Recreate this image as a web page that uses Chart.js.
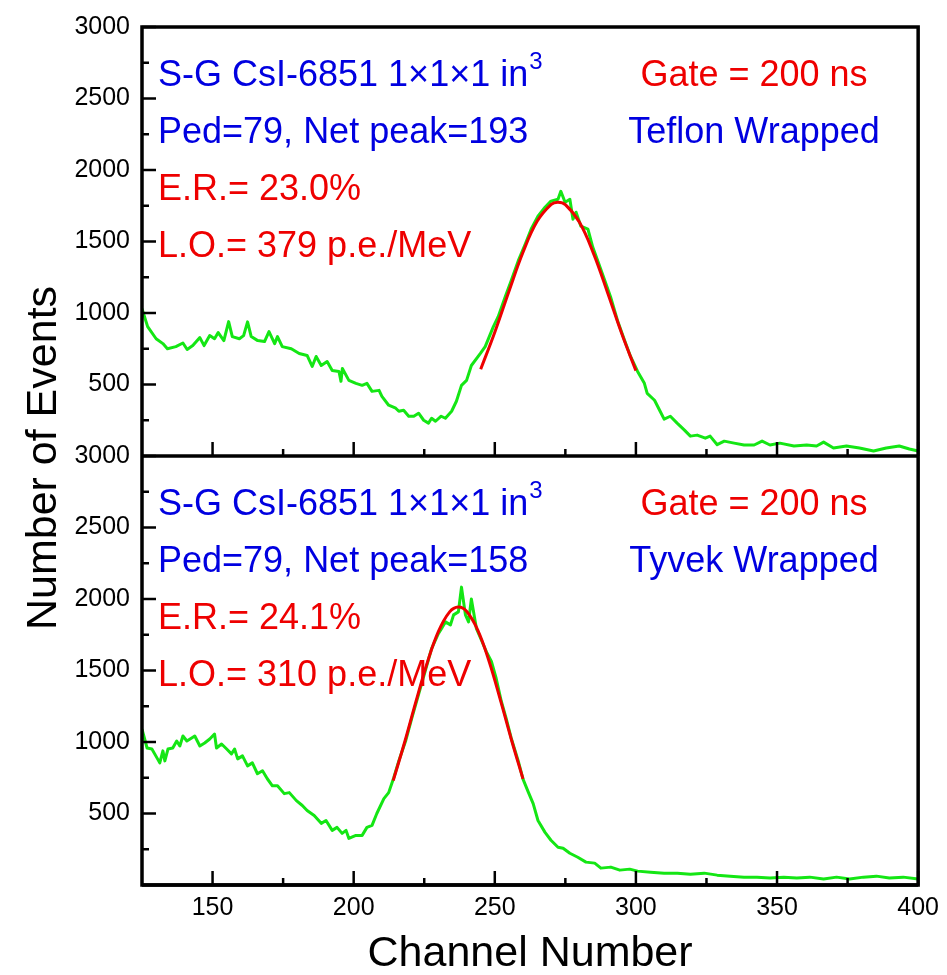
<!DOCTYPE html>
<html>
<head>
<meta charset="utf-8">
<script src="https://cdn.jsdelivr.net/npm/chart.js@4.4.0/dist/chart.umd.min.js"></script>
<style>
  html, body { margin: 0; padding: 0; background: #fff; }
  #wrap { position: relative; width: 947px; height: 975px; }
</style>
</head>
<body>
<div id="wrap"><canvas id="chart" width="947" height="975"></canvas></div>
<script>
// Axis ticks
const xTicks = [150, 200, 250, 300, 350, 400];
const xMinorTicks = [175, 225, 275, 325, 375];
const yTicks = [500, 1000, 1500, 2000, 2500, 3000];
const yMinorTicks = [250, 750, 1250, 1750, 2250, 2750];

// Top panel: Teflon wrapped spectrum
const tefChannels = [125.0, 127.0, 130.0, 132.4, 134.0, 137.0, 139.5, 141.0, 143.0, 145.5, 147.0, 149.0, 150.7, 152.0, 154.0, 155.7, 157.0, 159.5, 161.0, 162.4, 163.7, 166.0, 168.4, 170.0, 172.0, 173.0, 174.7, 177.9, 180.7, 183.5, 185.3, 186.7, 188.5, 190.6, 192.4, 194.8, 195.5, 196.0, 198.3, 200.8, 203.0, 204.7, 206.5, 209.0, 210.0, 212.4, 214.9, 216.0, 217.7, 219.5, 221.3, 223.0, 224.8, 226.5, 227.6, 229.0, 231.0, 232.5, 234.7, 236.4, 238.2, 240.0, 241.7, 244.9, 246.6, 249.5, 251.2, 253.7, 255.8, 258.3, 260.8, 262.9, 265.3, 267.8, 269.9, 272.4, 273.4, 274.9, 276.6, 277.7, 278.8, 280.5, 283.0, 284.7, 286.5, 289.0, 291.0, 293.5, 296.0, 298.1, 300.6, 303.0, 304.0, 306.6, 308.4, 310.0, 312.2, 314.6, 317.2, 319.3, 321.7, 324.6, 326.3, 328.8, 331.3, 334.8, 338.3, 341.9, 344.7, 347.5, 351.0, 356.0, 360.5, 364.0, 366.5, 370.0, 374.6, 379.2, 384.2, 388.7, 393.3, 396.9, 400.0];
const tefCounts = [1030, 905, 820, 786, 750, 765, 790, 745, 772, 828, 772, 842, 820, 863, 807, 940, 835, 820, 842, 938, 835, 807, 800, 870, 786, 835, 765, 750, 717, 703, 626, 696, 633, 661, 598, 591, 522, 612, 529, 508, 494, 508, 452, 459, 417, 355, 334, 313, 320, 278, 278, 299, 250, 230, 264, 243, 278, 264, 313, 383, 494, 529, 633, 717, 765, 905, 974, 1114, 1225, 1364, 1482, 1587, 1677, 1740, 1782, 1795, 1851, 1775, 1795, 1656, 1705, 1607, 1587, 1461, 1364, 1225, 1114, 946, 807, 696, 591, 508, 438, 390, 320, 258, 278, 230, 181, 139, 146, 125, 139, 79, 104, 90, 77, 77, 104, 77, 90, 70, 77, 70, 97, 56, 70, 56, 35, 56, 70, 49, 35];
const tefFitChannels = [245, 250, 255, 260, 265, 270, 272.4, 275, 280, 285, 290, 295, 300];
const tefFitCounts = [607, 866, 1151, 1425, 1641, 1760, 1775, 1758, 1634, 1415, 1140, 855, 597];

// Bottom panel: Tyvek wrapped spectrum
const tyvChannels = [125.0, 126.8, 128.5, 130.3, 131.3, 132.4, 133.1, 134.2, 135.9, 137.3, 138.4, 139.5, 140.9, 142.6, 143.7, 145.5, 147.2, 149.0, 150.7, 151.4, 153.2, 155.0, 156.7, 157.8, 158.9, 160.6, 162.4, 164.1, 165.9, 167.7, 169.4, 171.2, 173.0, 175.4, 177.2, 179.7, 181.8, 183.5, 186.0, 188.5, 190.2, 192.4, 194.1, 195.9, 197.3, 198.3, 200.8, 203.0, 204.7, 206.5, 208.2, 210.7, 212.4, 214.2, 216.0, 218.4, 220.6, 223.0, 225.5, 227.6, 230.0, 231.1, 232.5, 234.3, 235.4, 237.1, 238.2, 239.6, 240.7, 241.7, 243.5, 245.2, 247.0, 248.8, 250.5, 252.3, 254.0, 255.8, 258.3, 260.0, 261.8, 263.6, 265.3, 267.8, 269.9, 272.4, 274.2, 276.6, 279.4, 282.3, 285.4, 287.6, 291.1, 294.3, 297.8, 300.6, 305.2, 310.0, 314.7, 319.3, 324.2, 328.8, 333.4, 338.3, 342.9, 347.5, 352.4, 357.0, 361.6, 366.5, 371.1, 375.7, 380.6, 385.2, 389.8, 394.7, 400.0];
const tyvCounts = [1090, 958, 951, 889, 854, 938, 868, 951, 958, 1007, 972, 1042, 1007, 1028, 1042, 972, 993, 1021, 1056, 958, 986, 951, 917, 951, 882, 903, 833, 854, 778, 799, 743, 694, 694, 639, 646, 590, 556, 521, 486, 431, 451, 382, 403, 361, 382, 326, 347, 347, 403, 417, 500, 604, 646, 750, 868, 1007, 1167, 1333, 1507, 1653, 1757, 1792, 1840, 1819, 1889, 1910, 2083, 1889, 1840, 2000, 1792, 1715, 1632, 1563, 1444, 1285, 1167, 1028, 868, 740, 653, 569, 451, 368, 313, 264, 257, 222, 194, 160, 153, 118, 125, 104, 111, 97, 90, 83, 83, 76, 83, 69, 62, 55, 55, 49, 55, 49, 55, 42, 55, 42, 55, 62, 49, 55, 42];
const tyvFitChannels = [214, 218, 222, 226, 230, 234, 237.1, 240, 244, 248, 252, 256, 260];
const tyvFitCounts = [730, 995, 1279, 1550, 1772, 1910, 1944, 1914, 1781, 1563, 1293, 1009, 742];

const FONT = "'Liberation Sans', Arial, sans-serif";
const GREEN = '#14e614';
const RED = '#ee0000';
const BLUE = '#0000e0';

Chart.defaults.font.family = FONT;

const toPts = (xs, ys) => xs.map((x, i) => ({ x: x, y: ys[i] }));

// frame, inward tick marks and the text annotations
const framePlugin = {
    id: 'frame',
    afterDraw(chart) {
        const { ctx, chartArea: a, scales } = chart;
        const yT = scales.yTop, yB = scales.yBot, sx = scales.x;
        ctx.save();
        ctx.strokeStyle = '#000';
        ctx.lineCap = 'butt';

        const hTick = (y, len) => { ctx.beginPath(); ctx.moveTo(a.left, y); ctx.lineTo(a.left + len, y); ctx.stroke(); };
        const vTick = (x, y, len) => { ctx.beginPath(); ctx.moveTo(x, y); ctx.lineTo(x, y - len); ctx.stroke(); };

        ctx.lineWidth = 2.5;
        [yT, yB].forEach(s => {
            yTicks.forEach(v => hTick(s.getPixelForValue(v), 14));
            yMinorTicks.forEach(v => hTick(s.getPixelForValue(v), 7));
            const base = s.getPixelForValue(0);
            xTicks.forEach(v => vTick(sx.getPixelForValue(v), base, 14));
            xMinorTicks.forEach(v => vTick(sx.getPixelForValue(v), base, 7));
        });

        ctx.lineWidth = 3.5;
        ctx.strokeRect(a.left, a.top, a.right - a.left, a.bottom - a.top);
        [yT, yB].forEach(s => {
            const y = s.getPixelForValue(0);
            ctx.beginPath(); ctx.moveTo(a.left, y); ctx.lineTo(a.right, y); ctx.stroke();
        });

        // panel annotations
        const panels = [
            { top: yT.top, peak: '193', er: '23.0%', lo: '379', wrap: 'Teflon Wrapped' },
            { top: yB.top, peak: '158', er: '24.1%', lo: '310', wrap: 'Tyvek Wrapped' }
        ];
        const lx = a.left + 16, rx = 754;
        panels.forEach(p => {
            const b = i => p.top + 59 + 57 * i;
            ctx.font = '36px ' + FONT;
            ctx.textBaseline = 'alphabetic';
            ctx.textAlign = 'left';
            ctx.fillStyle = BLUE;
            const head = 'S-G CsI-6851 1\u00d71\u00d71 in';
            ctx.fillText(head, lx, b(0));
            const w = ctx.measureText(head).width;
            ctx.fillText('Ped=79, Net peak=' + p.peak, lx, b(1));
            ctx.fillStyle = RED;
            ctx.fillText('E.R.= ' + p.er, lx, b(2));
            ctx.fillText('L.O.= ' + p.lo + ' p.e./MeV', lx, b(3));
            ctx.textAlign = 'center';
            ctx.fillText('Gate = 200 ns', rx, b(0));
            ctx.fillStyle = BLUE;
            ctx.fillText(p.wrap, rx, b(1));
            ctx.font = '24px ' + FONT;
            ctx.textAlign = 'left';
            ctx.fillText('3', lx + w + 1, b(0) - 17);
        });

        // axis titles
        ctx.fillStyle = '#000';
        ctx.font = '43px ' + FONT;
        ctx.textAlign = 'center';
        ctx.fillText('Channel Number', (a.left + a.right) / 2, 966);
        ctx.translate(56, 458);
        ctx.rotate(-Math.PI / 2);
        ctx.fillText('Number of Events', 0, 0);
        ctx.restore();
    }
};

const yAxis = () => ({
    type: 'linear',
    position: 'left',
    stack: 'panels',
    stackWeight: 1,
    min: 0,
    max: 3000,
    grid: { display: false, drawTicks: false },
    border: { display: false },
    ticks: { font: { size: 25 }, color: '#000', padding: 12, autoSkip: false, callback: v => String(v) },
    afterBuildTicks: s => { s.ticks = yTicks.map(v => ({ value: v })); },
    afterFit: s => { s.width = 142; }
});

const spectrum = (xs, ys, axis) => ({ data: toPts(xs, ys), yAxisID: axis, borderColor: GREEN, borderWidth: 3, pointRadius: 0, tension: 0, borderJoinStyle: 'round', order: 2 });
const fit = (xs, ys, axis) => ({ data: toPts(xs, ys), yAxisID: axis, borderColor: RED, borderWidth: 3, pointRadius: 0, tension: 0.4, order: 1 });

const ctx = document.getElementById('chart').getContext('2d');
new Chart(ctx, {
    type: 'line',
    data: {
        datasets: [
            spectrum(tefChannels, tefCounts, 'yTop'),
            fit(tefFitChannels, tefFitCounts, 'yTop'),
            spectrum(tyvChannels, tyvCounts, 'yBot'),
            fit(tyvFitChannels, tyvFitCounts, 'yBot')
        ]
    },
    options: {
        responsive: false,
        animation: false,
        layout: { padding: { left: 0, right: 25, top: 22, bottom: 0 } },
        plugins: { legend: { display: false }, tooltip: { enabled: false } },
        scales: {
            x: {
                type: 'linear',
                min: 125,
                max: 400,
                grid: { display: false, drawTicks: false },
                border: { display: false },
                ticks: { font: { size: 25 }, color: '#000', padding: 8, maxRotation: 0, autoSkip: false, callback: v => String(v) },
                afterBuildTicks: s => { s.ticks = xTicks.map(v => ({ value: v })); },
                afterFit: s => { s.height = 90; }
            },
            // stacked: the later axis is laid out on top
            yBot: yAxis(),
            yTop: yAxis()
        }
    },
    plugins: [framePlugin]
});
</script>
</body>
</html>
